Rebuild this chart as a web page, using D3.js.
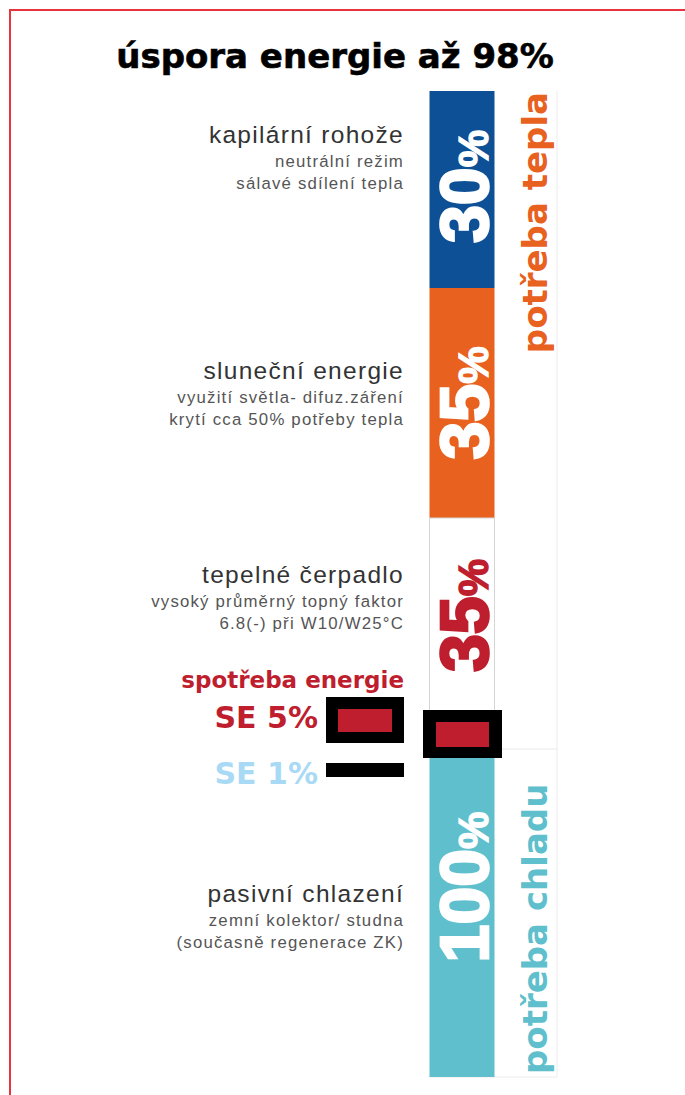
<!DOCTYPE html>
<html>
<head>
<meta charset="utf-8">
<script src="https://cdn.jsdelivr.net/npm/d3@7"></script>
<style>
  html, body { margin: 0; padding: 0; background: #fff; }
</style>
</head>
<body>
<div id="canvas"></div>
<script>
// Chart data
var title = "úspora energie až 98%";
var sources = ["kapilární rohože", "sluneční energie", "tepelné čerpadlo", "pasivní chlazení"];
var shares = [30, 35, 35, 100];
var notes = [
  ["neutrální režim", "sálavé sdílení tepla"],
  ["využití světla- difuz.záření", "krytí cca 50% potřeby tepla"],
  ["vysoký průměrný topný faktor", "6.8(-) při W10/W25°C"],
  ["zemní kolektor/ studna", "(současně regenerace ZK)"]
];
var demands = ["potřeba tepla", "potřeba chladu"];
var legendTitle = "spotřeba energie";
var legendItems = ["SE 5%", "SE 1%"];

// Layout
var canvas_w = 685;
var canvas_h = 1095;
var fills = ["#0d5096", "#e8611f", "#ffffff", "#5fbfcc"];
var pctColors = ["#ffffff", "#ffffff", "#be1e2d", "#ffffff"];
var demandColors = ["#e8611f", "#5fbfcc"];
var legendColors = ["#be1e2d", "#a9daf5"];
var labelBaseline = [143, 379, 583, 902];
var labelShift = [-3, 0, -18, -26];

var canvas = d3.select("#canvas").append("svg")
  .attr("width", canvas_w)
  .attr("height", canvas_h);

// Frame (only left and top edges show)
canvas.append("rect")
  .attr("x", 10).attr("y", 10)
  .attr("width", 720).attr("height", 1120)
  .style("fill", "none")
  .style("stroke", "#e8343f")
  .style("stroke-width", 2);

// Title
canvas.append("text")
  .attr("x", 335).attr("y", 68)
  .attr("text-anchor", "middle")
  .style("font-family", "DejaVu Sans")
  .style("font-weight", "bold")
  .style("font-size", "34px")
  .style("fill", "#000")
  .style("stroke", "#000")
  .style("stroke-width", 0.6)
  .text(title);

// Scales: schematic bar, one band per source (not proportional to share)
var y = d3.scaleLinear()
  .domain([0, 1, 2, 3, 4])
  .range([91, 288, 518, 749, 1077]);
var x = d3.scaleBand()
  .domain(["bar", "demand"])
  .range([429, 557])
  .paddingInner(0);
var barW = 66;

// Faint outline of the demand column
canvas.append("path")
  .attr("d", "M" + (x("demand") + x.bandwidth()) + "," + y(0) +
    "V" + y(4) + "H" + x("bar"))
  .style("fill", "none")
  .style("stroke", "#ececec")
  .style("stroke-width", 1);
canvas.append("line")
  .attr("x1", x("bar") + barW).attr("x2", x("demand") + x.bandwidth())
  .attr("y1", y(3)).attr("y2", y(3))
  .style("stroke", "#e8e8e8");

// Bar segments
canvas.selectAll(".seg")
  .data(shares)
  .enter().append("rect")
  .attr("class", "seg")
  .attr("x", x("bar") + 0.5)
  .attr("y", function(d, i) { return y(i); })
  .attr("width", barW - 1)
  .attr("height", function(d, i) { return y(i + 1) - y(i); })
  .style("fill", function(d, i) { return fills[i]; })
  .style("stroke", function(d, i) { return i === 2 ? "#d6d6d6" : "none"; });

// Percent labels inside the bar (rotated)
var pct = canvas.selectAll(".pct")
  .data(shares)
  .enter().append("text")
  .attr("class", "pct")
  .attr("transform", function(d, i) {
    var cy = (y(i) + y(i + 1)) / 2 + labelShift[i];
    return "translate(" + (x("bar") + 59) + "," + cy + ") rotate(-90)";
  })
  .attr("text-anchor", "middle")
  .style("font-family", "Liberation Sans")
  .style("font-weight", "bold")
  .style("fill", function(d, i) { return pctColors[i]; })
  .style("stroke", function(d, i) { return pctColors[i]; })
  .style("stroke-width", 2.6)
  .style("paint-order", "stroke");
pct.append("tspan")
  .style("font-size", "68px")
  .text(function(d) { return d; });
pct.append("tspan")
  .style("font-size", "42px")
  .style("stroke-width", 1.4)
  .text("%");

// Demand labels on the right
canvas.append("text")
  .attr("transform", "translate(" + 547 + "," + (y(0) + 1) + ") rotate(-90)")
  .attr("text-anchor", "end")
  .style("font-family", "DejaVu Sans")
  .style("font-weight", "bold")
  .style("font-size", "34px")
  .style("fill", demandColors[0])
  .text(demands[0]);
canvas.append("text")
  .attr("transform", "translate(" + 547 + "," + (y(4) - 3) + ") rotate(-90)")
  .attr("text-anchor", "start")
  .style("font-family", "DejaVu Sans")
  .style("font-weight", "bold")
  .style("font-size", "34px")
  .style("fill", demandColors[1])
  .text(demands[1]);

// Source labels on the left
var labelX = 404;
sources.forEach(function(name, i) {
  var g = canvas.append("g");
  g.append("text")
    .attr("x", labelX).attr("y", labelBaseline[i])
    .attr("text-anchor", "end")
    .style("font-family", "Liberation Sans")
    .style("font-size", "24.5px")
    .style("letter-spacing", "1.3px")
    .style("fill", "#333")
    .text(name);
  notes[i].forEach(function(line, j) {
    g.append("text")
      .attr("x", labelX).attr("y", labelBaseline[i] + 24 + j * 22)
      .attr("text-anchor", "end")
      .style("font-family", "Liberation Sans")
      .style("font-size", "16.8px")
      .style("letter-spacing", "1.2px")
      .style("fill", "#555")
      .text(line);
  });
});

// Energy consumption marker on the bar
var boxCy = y(3) - 15;
canvas.append("rect")
  .attr("x", x("bar") - 6).attr("y", boxCy - 24)
  .attr("width", barW + 13).attr("height", 48)
  .style("fill", "#000");
canvas.append("rect")
  .attr("x", x("bar") + 7).attr("y", boxCy - 12)
  .attr("width", barW - 13).attr("height", 25)
  .style("fill", "#be1e2d");

// Legend
canvas.append("text")
  .attr("x", 404).attr("y", 688)
  .attr("text-anchor", "end")
  .style("font-family", "DejaVu Sans")
  .style("font-weight", "bold")
  .style("font-size", "23px")
  .style("fill", "#be1e2d")
  .text(legendTitle);

canvas.append("rect")
  .attr("x", 326).attr("y", 697)
  .attr("width", 78).attr("height", 46)
  .style("fill", "#000");
canvas.append("rect")
  .attr("x", 338).attr("y", 709)
  .attr("width", 54).attr("height", 23)
  .style("fill", "#be1e2d");
canvas.append("rect")
  .attr("x", 326).attr("y", 763)
  .attr("width", 78).attr("height", 14)
  .style("fill", "#000");

canvas.selectAll(".leg")
  .data(legendItems)
  .enter().append("text")
  .attr("class", "leg")
  .attr("x", 318)
  .attr("y", function(d, i) { return 728 + i * 56; })
  .attr("text-anchor", "end")
  .style("font-family", "DejaVu Sans")
  .style("font-weight", "bold")
  .style("font-size", "30px")
  .style("fill", function(d, i) { return legendColors[i]; })
  .text(function(d) { return d; });
</script>
</body>
</html>
